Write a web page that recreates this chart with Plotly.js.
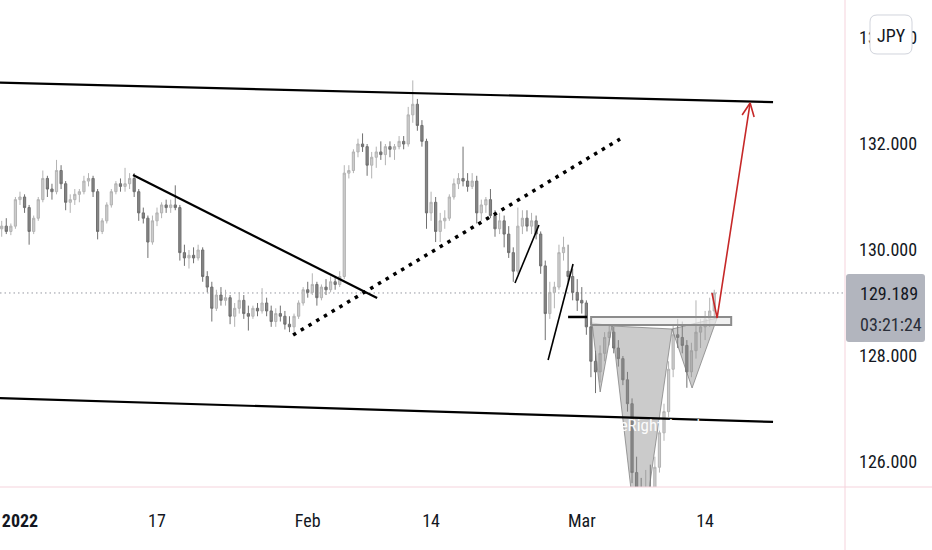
<!DOCTYPE html>
<html>
<head>
<meta charset="utf-8">
<script src="https://cdn.plot.ly/plotly-3.0.1.min.js"></script>
<style>
  html, body { margin: 0; padding: 0; background: #ffffff; }
  #chart { width: 932px; height: 550px; }
</style>
</head>
<body>
<div id="chart"></div>
<script>
// ---- categories: trading days (8-hour candles per day) ----
const days = [
  '2021-12-30','2021-12-31',
  '2022-01-03','2022-01-04','2022-01-05','2022-01-06','2022-01-07',
  '2022-01-10','2022-01-11','2022-01-12','2022-01-13','2022-01-14',
  '2022-01-17','2022-01-18','2022-01-19','2022-01-20','2022-01-21',
  '2022-01-24','2022-01-25','2022-01-26','2022-01-27','2022-01-28',
  '2022-01-31','2022-02-01','2022-02-02','2022-02-03','2022-02-04',
  '2022-02-07','2022-02-08','2022-02-09','2022-02-10','2022-02-11',
  '2022-02-14','2022-02-15','2022-02-16','2022-02-17','2022-02-18',
  '2022-02-21','2022-02-22','2022-02-23','2022-02-24','2022-02-25',
  '2022-02-28','2022-03-01','2022-03-02','2022-03-03','2022-03-04',
  '2022-03-07','2022-03-08','2022-03-09','2022-03-10','2022-03-11',
  '2022-03-14'
];
const slots = ['00:00', '08:00', '16:00'];

// ---- series values (EUR/JPY), three candles per day ----
const openP = [
  130.45,130.50,130.40, 130.45,130.35,130.45,
  130.95,131.00,130.80, 130.35,130.60,130.95, 131.35,131.15,131.10, 131.50,131.25,130.90, 130.95,131.05,131.10,
  131.30,131.35,131.10, 130.35,130.55,130.85, 131.10,131.25,131.20, 131.25,131.35,131.10, 130.70,130.60,130.15,
  130.55,130.70,130.85, 130.80,130.85,130.80, 129.95,129.85,129.90, 129.85,130.00,129.50, 129.30,128.90,129.15,
  129.05,129.10,128.75, 128.90,129.05,128.80, 128.75,128.90,128.85, 129.00,128.85,128.65, 128.80,128.75,128.60,
  128.55,128.75,129.00, 129.25,129.20,129.35, 129.10,129.30,129.25, 129.40,129.35,129.50, 131.45,131.50,131.85,
  132.00,131.95,131.60, 131.75,131.85,131.80, 131.95,131.90,131.95, 132.05,132.00,132.55, 132.75,132.35,132.05,
  130.70,130.90,130.35, 130.55,130.60,131.00, 131.25,131.35,131.30, 131.20,131.30,130.70, 130.85,130.95,130.65,
  130.40,130.55,130.30, 129.95,129.60,130.45, 130.60,130.45,130.55, 130.30,129.70,128.80, 129.20,129.30,129.95,
  129.60,129.50,129.20, 129.05,129.00,128.55, 127.90,127.70,128.05, 128.35,128.45,128.15, 127.95,127.55,127.10,
  125.80,125.30,124.90, 125.40,125.20,125.90, 126.55,126.95,127.75, 128.40,128.35,128.20, 127.70,128.10,128.45,
  128.55,128.70,128.85
];
const highP = [
  130.60,130.62,130.55, 130.60,130.50,131.00,
  131.10,131.05,130.85, 130.65,131.00,131.50, 131.40,131.25,131.70, 131.60,131.30,131.05, 131.15,131.15,131.40,
  131.45,131.40,131.15, 130.60,130.90,131.15, 131.30,131.35,131.55, 131.45,131.45,131.15, 130.80,130.65,130.65,
  130.80,130.90,130.95, 130.95,131.22,130.85, 130.10,130.00,130.05, 130.10,130.05,129.60, 129.40,129.25,129.30,
  129.25,129.15,129.00, 129.20,129.15,128.95, 128.95,129.00,129.28, 129.10,128.95,128.90, 128.95,128.85,128.75,
  128.80,129.05,129.30, 129.40,129.56,129.40, 129.35,129.45,129.50, 129.50,129.60,131.60, 131.60,131.90,132.10,
  132.20,132.00,131.85, 131.95,132.05,132.00, 132.05,132.00,132.15, 132.15,132.70,133.20, 132.85,132.45,132.10,
  131.10,131.00,130.70, 130.75,131.05,131.35, 131.45,131.95,131.45, 131.45,131.40,130.95, 131.00,131.15,130.75,
  130.70,130.65,130.45, 130.05,130.80,130.75, 130.75,130.70,130.65, 130.35,129.80,129.40, 129.40,130.10,130.25,
  130.10,129.65,129.45, 129.30,129.05,128.65, 128.10,128.20,128.45, 128.60,128.55,128.30, 128.00,127.70,127.20,
  126.10,125.70,125.85, 125.95,126.10,126.75, 127.10,127.90,128.60, 128.70,128.65,128.30, 128.25,129.05,128.70,
  128.85,129.10,129.25
];
const lowP = [
  130.35,130.30,130.25, 130.30,130.28,130.40,
  130.85,130.70,130.10, 130.30,130.55,130.90, 131.00,130.95,131.05, 131.15,130.75,130.70, 130.85,130.90,131.05,
  131.20,131.00,130.20, 130.30,130.50,130.80, 131.05,131.10,131.10, 131.15,131.00,130.55, 130.50,129.85,130.10,
  130.45,130.60,130.70, 130.70,130.75,129.80, 129.70,129.65,129.75, 129.80,129.40,129.20, 128.65,128.85,128.95,
  128.95,128.60,128.55, 128.80,128.70,128.48, 128.70,128.75,128.80, 128.75,128.55,128.55, 128.65,128.50,128.45,
  128.45,128.70,128.95, 129.10,129.15,128.95, 129.05,129.15,129.20, 129.25,129.30,129.45, 131.35,131.45,131.75,
  131.85,131.40,131.35, 131.55,131.70,131.60, 131.75,131.70,131.90, 131.90,131.95,132.40, 132.25,131.95,130.40,
  130.55,130.15,130.15, 130.40,130.55,130.95, 131.15,131.20,131.10, 131.15,130.50,130.55, 130.70,130.60,130.25,
  130.30,130.05,129.85, 129.40,129.55,130.30, 130.35,130.30,130.20, 129.55,128.30,128.70, 128.90,129.25,129.80,
  129.40,129.05,128.85, 128.80,128.40,127.60, 127.30,127.50,127.90, 128.20,128.05,127.80, 127.45,126.95,125.60,
  125.00,124.40,124.70, 124.90,125.10,125.80, 126.40,126.85,127.60, 128.15,128.05,127.40, 127.60,127.95,128.15,
  128.30,128.55,128.70
];
const closeP = [
  130.50,130.40,130.45, 130.35,130.45,130.95,
  131.00,130.80,130.35, 130.60,130.95,131.35, 131.15,131.10,131.50, 131.25,130.90,130.95, 131.05,131.10,131.30,
  131.35,131.10,130.35, 130.55,130.85,131.10, 131.25,131.20,131.25, 131.35,131.10,130.70, 130.60,130.15,130.55,
  130.70,130.85,130.80, 130.85,130.80,129.95, 129.85,129.90,129.85, 130.00,129.50,129.30, 128.90,129.15,129.05,
  129.10,128.75,128.90, 129.05,128.80,128.75, 128.90,128.85,129.00, 128.85,128.65,128.80, 128.75,128.60,128.55,
  128.75,129.00,129.25, 129.20,129.35,129.10, 129.30,129.25,129.40, 129.35,129.50,131.45, 131.50,131.85,132.00,
  131.95,131.60,131.75, 131.85,131.80,131.95, 131.90,131.95,132.05, 132.00,132.55,132.75, 132.35,132.05,130.70,
  130.90,130.35,130.55, 130.60,131.00,131.25, 131.35,131.30,131.20, 131.30,130.70,130.85, 130.95,130.65,130.40,
  130.55,130.30,129.95, 129.60,130.45,130.60, 130.45,130.55,130.30, 129.70,128.80,129.20, 129.30,129.95,130.05,
  129.50,129.20,129.05, 129.00,128.55,127.90, 127.70,128.05,128.35, 128.45,128.15,127.95, 127.55,127.10,125.80,
  125.30,124.90,125.40, 125.20,125.90,126.55, 126.95,127.75,128.40, 128.35,128.20,127.70, 128.10,128.45,128.55,
  128.70,128.85,129.189
];
const lastPrice = 129.189;
const countdown = '03:21:24';

// ---- tick labels ----
const xTickVals = ['2022-01-03','2022-01-17','2022-02-01','2022-02-14','2022-03-01','2022-03-14'];
const xTickText = ['<b>2022</b>','17','Feb','14','Mar','14'];
const yTickVals = [126, 128, 130, 132, 134];

// ---- drawing anchors (date, price) ----
const upperChX = ['2021-12-30 00:00','2022-03-18 23:00'], upperChY = [133.16, 132.79];
const lowerChX = ['2021-12-30 00:00','2022-03-18 23:00'], lowerChY = [127.21, 126.755];
const downTrendX = ['2022-01-13 06:00','2022-02-08 01:30'], downTrendY = [131.415, 129.094];
const dotTrendX = ['2022-01-28 22:20','2022-03-03 19:00'], dotTrendY = [128.396, 132.094];
const legAX = ['2022-02-22 03:00','2022-02-23 21:00'], legAY = [129.377, 130.472];
const legBX = ['2022-02-24 13:00','2022-02-28 08:40'], legBY = [127.925, 129.736];
const flatX = ['2022-02-28 00:00','2022-03-01 09:20'], flatY = [128.736, 128.736];
const boxX = ['2022-03-01 16:20','2022-03-15 21:40'], boxY = [128.585, 128.736];
const shoulderLX = ['2022-03-01 18:00','2022-03-02 08:10','2022-03-03 05:00'], shoulderLY = [128.623,127.321,128.566];
const headX = ['2022-03-03 05:00','2022-03-07 04:20','2022-03-09 14:10'], headY = [128.566,124.17,128.509];
const shoulderRX = ['2022-03-09 14:10','2022-03-11 01:10','2022-03-14 21:00'], shoulderRY = [128.509,127.396,128.717];
const targetX = ['2022-03-14 12:00','2022-03-14 21:00','2022-03-17 06:50'], targetY = [129.189,128.717,132.774];
const headArrowX = ['2022-03-16 16:50','2022-03-17 06:50','2022-03-17 13:50'], headArrowY = [132.547,132.774,132.509];

// ---- build ----
const time = [];
days.forEach(d => slots.forEach(s => time.push(d + ' ' + s)));

const FONT = '"Liberation Sans Narrow", "Roboto Condensed", "DejaVu Sans Condensed", "Arial Narrow", Roboto, sans-serif';

function lineTrace(x, y, color, width, dash) {
  return { type: 'scatter', mode: 'lines', x: x, y: y, hoverinfo: 'skip',
           line: { color: color, width: width, dash: dash || 'solid' }, showlegend: false };
}
function triTrace(x, y) {
  return { type: 'scatter', mode: 'lines', x: x.concat([x[0]]), y: y.concat([y[0]]),
           fill: 'toself', fillcolor: 'rgba(140,140,140,0.45)', hoverinfo: 'skip',
           line: { color: 'rgba(120,120,120,0.7)', width: 1 }, showlegend: false };
}

const traces = [
  triTrace(shoulderLX, shoulderLY),
  triTrace(headX, headY),
  triTrace(shoulderRX, shoulderRY),
  {
    type: 'candlestick', x: time, open: openP, high: highP, low: lowP, close: closeP,
    increasing: { line: { color: '#b3b3b3', width: 1 }, fillcolor: '#cccccc' },
    decreasing: { line: { color: '#707070', width: 1 }, fillcolor: '#858585' },
    whiskerwidth: 0, hoverinfo: 'skip', showlegend: false
  },
  {
    type: 'scatter', mode: 'lines', hoverinfo: 'skip', showlegend: false,
    x: [boxX[0], boxX[1], boxX[1], boxX[0], boxX[0]],
    y: [boxY[0], boxY[0], boxY[1], boxY[1], boxY[0]],
    fill: 'toself', fillcolor: 'rgba(235,235,235,0.7)',
    line: { color: '#8c8c8c', width: 2 }
  },
  lineTrace(upperChX, upperChY, '#000000', 2.2),
  lineTrace(lowerChX, lowerChY, '#000000', 2.2),
  lineTrace(downTrendX, downTrendY, '#000000', 2.2),
  lineTrace(dotTrendX, dotTrendY, '#000000', 3.5, '3.5px,5.5px'),
  lineTrace(legAX, legAY, '#000000', 1.6),
  lineTrace(legBX, legBY, '#000000', 1.6),
  lineTrace(flatX, flatY, '#000000', 2.5),
  lineTrace(targetX, targetY, '#c62828', 1.6),
  lineTrace(headArrowX, headArrowY, '#c62828', 1.6)
];

const W = 932, H = 550, ML = 0, MR = 87, MT = 0, MB = 63;
const pw = W - ML - MR, ph = H - MT - MB;
const px = v => (v - ML) / pw;           // pixel x -> paper
const py = v => 1 - (v - MT) / ph;       // pixel y -> paper

// rounded rectangle path in paper units (given in pixels)
function roundRect(x0, y0, x1, y1, r) {
  const X = v => px(v).toFixed(5), Y = v => py(v).toFixed(5);
  return 'M' + X(x0 + r) + ',' + Y(y0) +
    ' L' + X(x1 - r) + ',' + Y(y0) + ' Q' + X(x1) + ',' + Y(y0) + ' ' + X(x1) + ',' + Y(y0 + r) +
    ' L' + X(x1) + ',' + Y(y1 - r) + ' Q' + X(x1) + ',' + Y(y1) + ' ' + X(x1 - r) + ',' + Y(y1) +
    ' L' + X(x0 + r) + ',' + Y(y1) + ' Q' + X(x0) + ',' + Y(y1) + ' ' + X(x0) + ',' + Y(y1 - r) +
    ' L' + X(x0) + ',' + Y(y0 + r) + ' Q' + X(x0) + ',' + Y(y0) + ' ' + X(x0 + r) + ',' + Y(y0) + ' Z';
}

const layout = {
  width: W, height: H,
  margin: { l: ML, r: MR, t: MT, b: MB, pad: 0 },
  paper_bgcolor: '#ffffff', plot_bgcolor: '#ffffff',
  showlegend: false, hovermode: false, dragmode: false,
  font: { family: FONT, color: '#131722', size: 18 },
  xaxis: {
    type: 'date',
    range: ['2021-12-30 13:00', '2022-03-28 05:00'],
    rangebreaks: [{ bounds: ['sat', 'mon'] }],
    rangeslider: { visible: false },
    tickmode: 'array', tickvals: xTickVals, ticktext: xTickText,
    showgrid: false, zeroline: false, showline: false, ticks: '',
    ticklabelstandoff: 21,
    tickfont: { family: FONT, size: 18, color: '#131722' },
    fixedrange: true
  },
  yaxis: {
    side: 'right',
    range: [125.528, 134.717],
    tickmode: 'array', tickvals: yTickVals,
    tickformat: '.3f',
    showgrid: false, zeroline: false, showline: false, ticks: '',
    ticklabelstandoff: 13,
    tickfont: { family: FONT, size: 18, color: '#131722' },
    fixedrange: true
  },
  shapes: [
    // last price dotted line
    { type: 'line', xref: 'paper', yref: 'y', x0: 0, x1: 1, y0: lastPrice, y1: lastPrice,
      line: { color: '#9598a1', width: 1, dash: '1.5px,3px' }, layer: 'below' },
    // scale borders
    { type: 'line', xref: 'paper', yref: 'paper', x0: 1, x1: 1, y0: py(H), y1: 1,
      line: { color: '#f5d3dc', width: 1 }, layer: 'above' },
    { type: 'line', xref: 'paper', yref: 'paper', x0: 0, x1: px(W), y0: 0, y1: 0,
      line: { color: '#f5d3dc', width: 1 }, layer: 'above' },
    // last price label box
    { type: 'path', xref: 'paper', yref: 'paper', path: roundRect(846, 274, 925, 342, 3),
      fillcolor: '#b2b5be', line: { width: 0 }, layer: 'above' },
    // currency button
    { type: 'path', xref: 'paper', yref: 'paper', path: roundRect(870, 15, 912, 54, 7),
      fillcolor: '#ffffff', line: { color: '#d1d4dc', width: 1 }, layer: 'above' }
  ],
  annotations: [
    { xref: 'paper', yref: 'paper', x: px(858), y: py(293), xanchor: 'left', yanchor: 'middle',
      text: lastPrice.toFixed(3), showarrow: false, font: { family: FONT, size: 18, color: '#131722' } },
    { xref: 'paper', yref: 'paper', x: px(858), y: py(324), xanchor: 'left', yanchor: 'middle',
      text: countdown, showarrow: false, font: { family: FONT, size: 18, color: '#2a2e39' } },
    { xref: 'paper', yref: 'paper', x: px(891), y: py(35), xanchor: 'center', yanchor: 'middle',
      text: 'JPY', showarrow: false, font: { family: FONT, size: 18, color: '#131722' } },
    // watermark
    { xref: 'x', yref: 'y', x: '2022-03-08 16:00', y: 126.70, xanchor: 'center', yanchor: 'middle',
      text: 'TradeRight Academy', showarrow: false, font: { family: FONT, size: 17, color: 'rgba(255,255,255,0.95)' } }
  ]
};

Plotly.newPlot('chart', traces, layout, { displayModeBar: false, staticPlot: true, responsive: false });
</script>
</body>
</html>
